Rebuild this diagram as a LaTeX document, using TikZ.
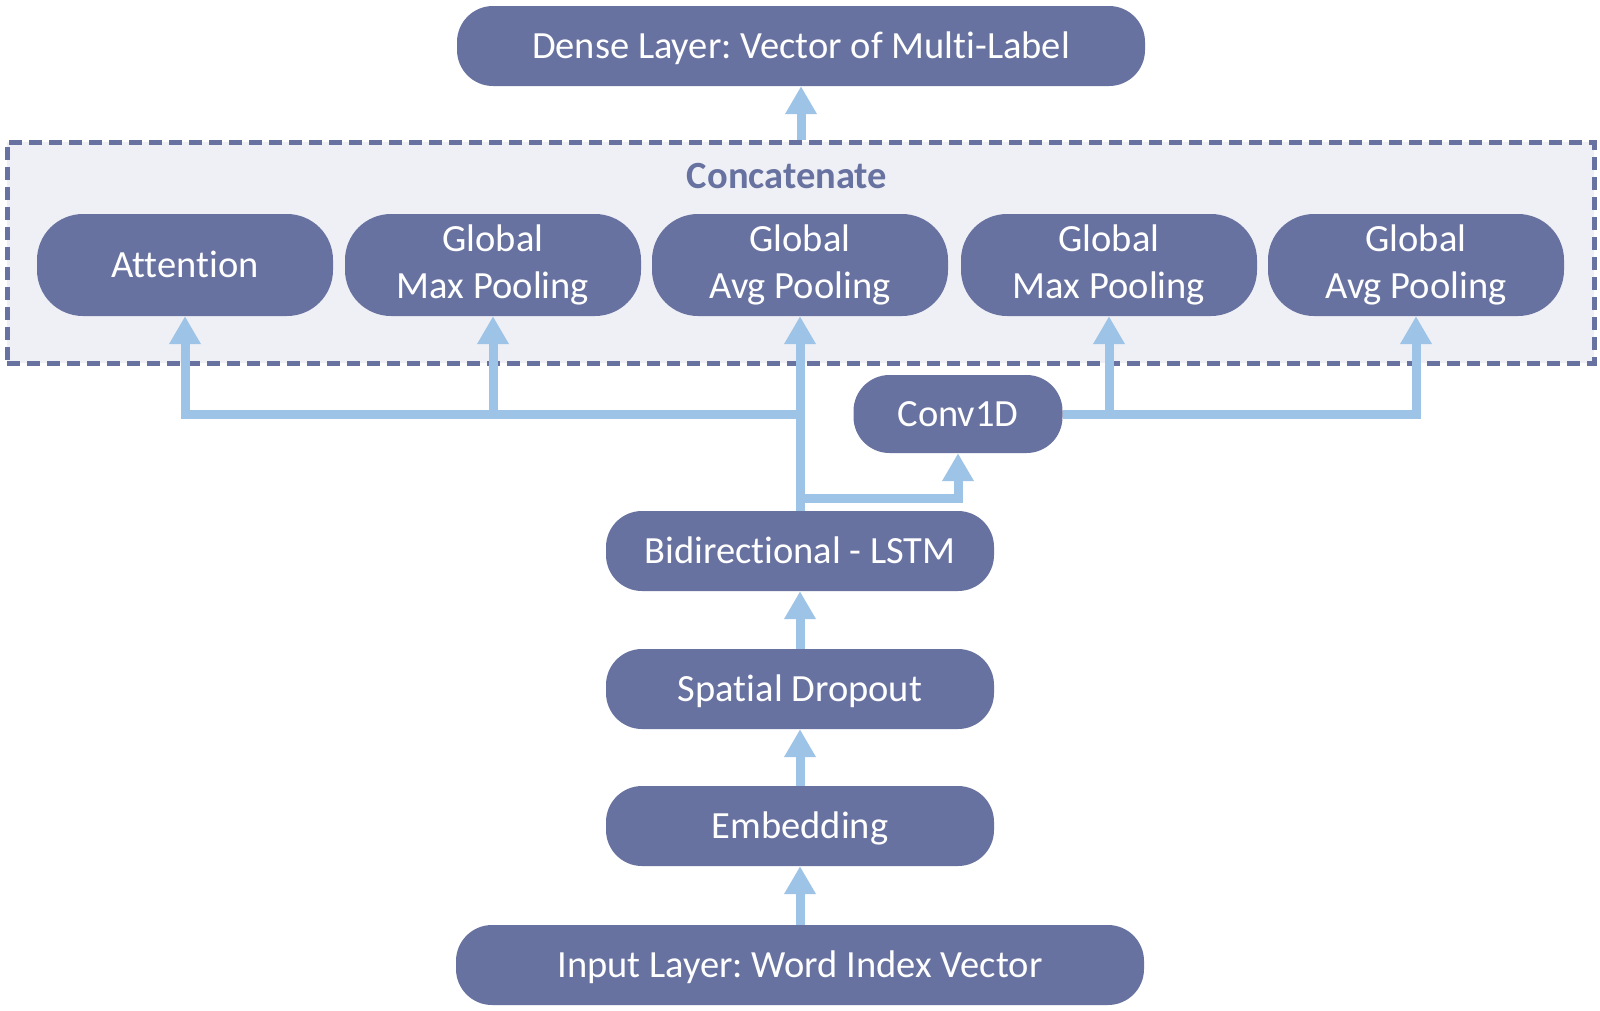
\documentclass[tikz,border=0pt]{standalone}
\usepackage{fontspec}
\setmainfont{Carlito}[Ligatures=NoCommon]
\usetikzlibrary{arrows.meta}
\definecolor{boxc}{RGB}{104,114,160}
\definecolor{arrc}{RGB}{157,195,230}
\definecolor{bgc}{RGB}{239,240,246}
\frenchspacing
\tikzset{
  layer/.style={fill=boxc, text=white, rounded corners=36pt, minimum height=80pt,
    inner sep=0pt, font=\fontsize{38.5}{47}\selectfont, text height=25pt, text depth=0pt},
  pool/.style={fill=boxc, text=white, rounded corners=46pt, minimum width=296pt,
    minimum height=102pt, inner sep=0pt, align=center, font=\fontsize{38.5}{47}\selectfont},
  arr/.style={draw=arrc, line width=9pt, -{Triangle[width=30pt,length=28pt]}},
  concatbox/.style={draw=boxc, fill=bgc, line width=5pt, dash pattern=on 13pt off 7pt,
    minimum width=1587pt, minimum height=221pt, inner sep=0pt},
}
\begin{document}
\begin{tikzpicture}[x=1pt,y=-1pt]
\useasboundingbox (0,0) rectangle (1600,1010);
\node[concatbox] (cbox) at (800.5,252.5) {};
\node[text=boxc, font=\fontsize{38.5}{47}\selectfont\bfseries] (ctitle) at (787,176) {Concatenate};

\node[layer, minimum width=688pt] (dense) at (801,46) {Dense Layer: Vector of Multi-Label};
\node[layer, minimum width=688pt] (input) at (800,965) {Input Layer: Word Index Vector};
\node[layer, minimum width=388pt] (embed) at (800,826) {Embedding};
\node[layer, minimum width=388pt] (spatial) at (800,689) {Spatial Dropout};
\node[layer, minimum width=388pt] (bilstm) at (800,551) {Bidirectional - LSTM};
\node[layer, minimum width=209pt, minimum height=78pt] (conv) at (958,414) {Conv1D};

\node[pool, text height=25pt, text depth=0pt] (att) at (185,265) {Attention};
\node[pool] (gmp1) at (493,265) {Global\\Max Pooling};
\node[pool] (gap1) at (800,265) {Global\\Avg Pooling};
\node[pool] (gmp2) at (1109,265) {Global\\Max Pooling};
\node[pool] (gap2) at (1416,265) {Global\\Avg Pooling};

\coordinate (hub) at (800,414);
\coordinate (split) at (800,498);

\draw[arr] (input.north) -- (embed.south);
\draw[arr] (embed.north) -- (spatial.south);
\draw[arr] (spatial.north) -- (bilstm.south);
\draw[arr] (bilstm.north) -- (gap1.south);
\draw[arr] (split) -| (conv.south);
\draw[arr] (hub) -| (att.south);
\draw[arr] (hub -| gmp1.south) -- (gmp1.south);
\draw[arr] (conv.east) -| (gap2.south);
\draw[arr] (conv.east -| gmp2.south) -- (gmp2.south);
\draw[arr] (cbox.north -| dense.south) -- (dense.south);
\end{tikzpicture}
\end{document}
